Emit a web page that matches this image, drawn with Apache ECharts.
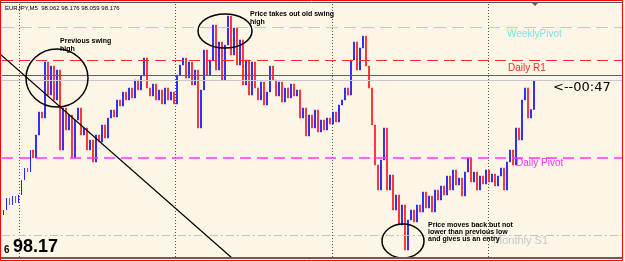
<!DOCTYPE html>
<html>
<head>
<meta charset="utf-8">
<title>EURJPY,M5</title>
<script src="https://cdn.jsdelivr.net/npm/echarts@6/dist/echarts.min.js"></script>
<style>
  html, body { margin: 0; padding: 0; background: #fdf5e6; }
  #chart { width: 625px; height: 262px; }
</style>
</head>
<body>
<div id="chart"></div>
<script>
// closes of M5 bars (price)
const firstOpen = 97.640
const closes = [
  97.660, 97.708, 97.680, 97.716, 97.688, 97.720, 97.780, 97.828, 97.812, 97.900,
  97.868, 97.960, 98.052, 98.028, 98.252, 98.120, 98.236, 98.100, 98.220, 97.900,
  98.068, 97.980, 98.040, 97.868, 98.020, 98.068, 97.960, 97.988, 97.900, 97.940,
  97.852, 97.960, 97.932, 98.000, 97.948, 98.028, 98.060, 98.032, 98.100, 98.076,
  98.132, 98.100, 98.148, 98.108, 98.180, 98.140, 98.196, 98.268, 98.148, 98.116,
  98.164, 98.100, 98.140, 98.084, 98.148, 98.100, 98.132, 98.084, 98.200, 98.240,
  98.268, 98.188, 98.252, 98.160, 98.220, 97.988, 98.140, 98.300, 98.200, 98.260,
  98.400, 98.220, 98.332, 98.180, 98.320, 98.436, 98.280, 98.388, 98.240, 98.340,
  98.160, 98.260, 98.120, 98.252, 98.148, 98.100, 98.172, 98.080, 98.132, 98.236,
  98.180, 98.116, 98.172, 98.092, 98.148, 98.108, 98.164, 98.116, 98.140, 98.028,
  98.068, 97.956, 98.040, 97.988, 98.060, 97.972, 98.020, 97.980, 98.028, 98.004,
  98.052, 98.012, 98.080, 98.100, 98.148, 98.120, 98.260, 98.332, 98.220, 98.308,
  98.356, 98.236, 98.148, 98.000, 97.840, 97.740, 97.860, 97.988, 97.740, 97.800,
  97.660, 97.720, 97.600, 97.680, 97.500, 97.620, 97.660, 97.612, 97.680, 97.652,
  97.732, 97.668, 97.716, 97.652, 97.740, 97.700, 97.756, 97.720, 97.796, 97.740,
  97.820, 97.760, 97.788, 97.716, 97.812, 97.868, 97.772, 97.812, 97.740, 97.796,
  97.764, 97.820, 97.772, 97.804, 97.756, 97.796, 97.828, 97.740, 97.852, 97.900,
  97.840, 97.988, 97.940, 98.100, 98.148, 98.028, 98.062, 98.176
]
const totalSlots = 207

// horizontal levels
const levelNames = ['WeeklyPivot', 'Daily R1', 'Daily Pivot', 'Monthly S1']
const levelPrices = [98.392, 98.256, 97.872, 97.560]
const levelColors = ['#7ae6e6', '#ff2a2a', '#ff33ff', '#c4c4c4']
const askPrice = 98.196
const bidPrice = 98.184

const priceMin = 97.472
const priceMax = 98.484

const categories = []
for (let i = 0; i < totalSlots; i++) categories.push(String(i))

const candles = closes.map(function (c, i) {
  const o = i === 0 ? firstOpen : closes[i - 1]
  return [o, c, Math.min(o, c), Math.max(o, c)]
})

const chart = echarts.init(document.getElementById('chart'))

const option = {
  backgroundColor: '#fdf5e6',
  animation: false,
  grid: { left: 2, right: 3, top: 4, bottom: 5 },
  xAxis: {
    type: 'category',
    data: categories,
    boundaryGap: true,
    axisLine: { show: false },
    axisTick: { show: false },
    axisLabel: { show: false },
    splitLine: { show: false }
  },
  yAxis: {
    type: 'value',
    min: priceMin,
    max: priceMax,
    axisLine: { show: false },
    axisTick: { show: false },
    axisLabel: { show: false },
    splitLine: { show: false }
  },
  series: [{
    type: 'candlestick',
    data: candles,
    barWidth: 1.4,
    itemStyle: {
      color: '#1a1aff',
      color0: '#ff2424',
      borderColor: '#1a1aff',
      borderColor0: '#ff2424',
      borderWidth: 0.8
    },
    markLine: {
      silent: true,
      symbol: 'none',
      label: { show: false },
      data: [
        { yAxis: levelPrices[0], lineStyle: { color: levelColors[0], type: [12, 6], width: 1 } },
        { yAxis: levelPrices[1], lineStyle: { color: levelColors[1], type: [11, 6], width: 1 } },
        { yAxis: askPrice, lineStyle: { color: '#ff2020', type: 'solid', width: 1 } },
        { yAxis: bidPrice, lineStyle: { color: '#c8c8c8', type: 'solid', width: 1 } },
        { yAxis: levelPrices[2], lineStyle: { color: levelColors[2], type: [11, 6], width: 1.5 } },
        { yAxis: levelPrices[3], lineStyle: { color: levelColors[3], type: [8, 3, 2, 3], width: 1 } }
      ]
    }
  }]
}
chart.setOption(option)

// overlays: frame, separators, annotations
const yOf = function (p) { return chart.convertToPixel({ yAxisIndex: 0 }, p) }
const g = []

// vertical dotted separators
;[19, 175, 332, 488].forEach(function (x) {
  g.push({ type: 'line', z: 1, shape: { x1: x + 0.5, y1: 4, x2: x + 0.5, y2: 257 },
    style: { stroke: '#505050', lineWidth: 1, lineDash: [1, 2] } })
})

// frame
g.push({ type: 'rect', z: 50, shape: { x: 0.5, y: 0.5, width: 622, height: 260 },
  style: { fill: 'none', stroke: '#ff0000', lineWidth: 1 } })
g.push({ type: 'line', z: 50, shape: { x1: 1, y1: 2.5, x2: 622, y2: 2.5 }, style: { stroke: '#555', lineWidth: 1 } })
g.push({ type: 'line', z: 50, shape: { x1: 1, y1: 258, x2: 622, y2: 258 }, style: { stroke: '#606060', lineWidth: 2 } })
g.push({ type: 'polygon', z: 50, shape: { points: [[532, 3], [538, 3], [535, 6]] }, style: { fill: '#606060' } })

// level labels
g.push({ type: 'text', z: 40, x: 507, y: yOf(levelPrices[0]) + 2,
  style: { text: levelNames[0], fill: levelColors[0], font: '10px Arial' } })
g.push({ type: 'text', z: 40, x: 508, y: yOf(levelPrices[1]) + 2,
  style: { text: levelNames[1], fill: levelColors[1], font: '10px Arial' } })
g.push({ type: 'text', z: 40, x: 516, y: yOf(levelPrices[2]) + 1,
  style: { text: levelNames[2], fill: levelColors[2], font: '10px Arial' } })
g.push({ type: 'text', z: 40, x: 493, y: yOf(levelPrices[3]) + 0,
  style: { text: levelNames[3], fill: '#c8c8c8', font: '11px Arial' } })

// header and price labels
g.push({ type: 'text', z: 40, x: 5, y: 5,
  style: { text: 'EURJPY,M5  98.062 98.176 98.059 98.176', fill: '#000', font: '6px Arial' } })
g.push({ type: 'text', z: 40, x: 4, y: 245,
  style: { text: '6', fill: '#000', font: 'bold 10px Arial' } })
g.push({ type: 'text', z: 40, x: 13, y: 238,
  style: { text: '98.17', fill: '#000', font: 'bold 18px Arial' } })
g.push({ type: 'text', z: 40, x: 553, y: 81,
  style: { text: '<--00:47', fill: '#000', font: '13px "DejaVu Sans"' } })

// annotations
g.push({ type: 'line', z: 30, shape: { x1: 0, y1: 54, x2: 232, y2: 258 }, style: { stroke: '#000', lineWidth: 1.2 } })
g.push({ type: 'ellipse', z: 30, shape: { cx: 57, cy: 78, rx: 31, ry: 29 }, style: { fill: 'none', stroke: '#000', lineWidth: 1.5 } })
g.push({ type: 'ellipse', z: 30, shape: { cx: 225, cy: 31, rx: 27, ry: 17 }, style: { fill: 'none', stroke: '#000', lineWidth: 1.5 } })
g.push({ type: 'ellipse', z: 30, shape: { cx: 403, cy: 241, rx: 21, ry: 17 }, style: { fill: 'none', stroke: '#000', lineWidth: 1.5 } })
g.push({ type: 'text', z: 40, x: 60, y: 37,
  style: { text: 'Previous swing\nhigh', fill: '#000', font: 'bold 7px Arial', lineHeight: 8 } })
g.push({ type: 'text', z: 40, x: 250, y: 10,
  style: { text: 'Price takes out old swing\nhigh', fill: '#000', font: 'bold 7px Arial', lineHeight: 8 } })
g.push({ type: 'text', z: 40, x: 428, y: 222,
  style: { text: 'Price moves back but not\nlower than previous low\nand gives us an entry', fill: '#000', font: 'bold 7px Arial', lineHeight: 7 } })

chart.setOption({ graphic: g })
</script>
</body>
</html>
